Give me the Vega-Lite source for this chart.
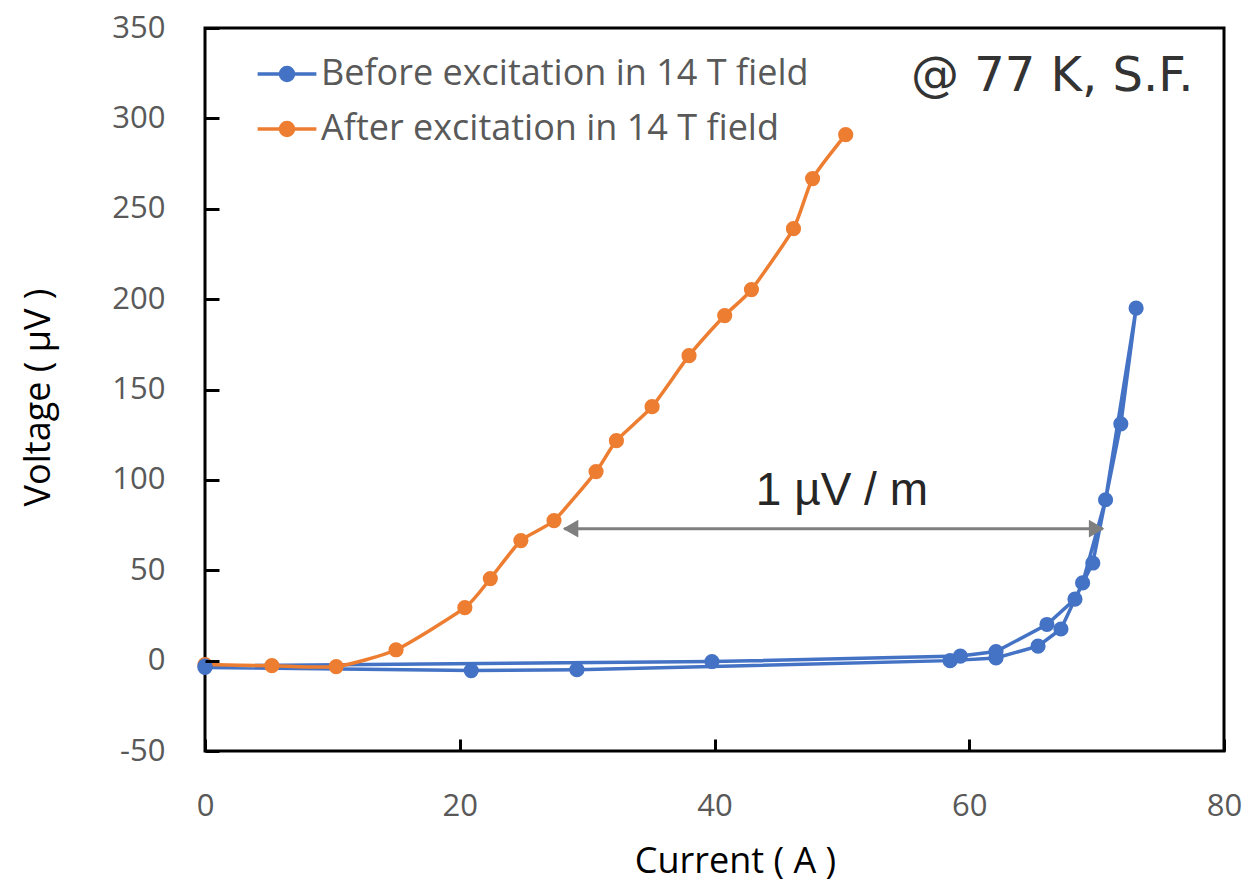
{
  "$schema": "https://vega.github.io/schema/vega-lite/v6.json",
  "width": 1019,
  "height": 723,
  "autosize": "none",
  "padding": {"left": 205, "top": 28, "right": 24, "bottom": 132},
  "background": "white",
  "view": {"stroke": "black", "strokeWidth": 3},
  "config": {
    "view": {"stroke": "black", "strokeWidth": 3},
    "font": "Open Sans"
  },
  "datasets": {
    "series": [
      {"series": "Before excitation in 14 T field", "i": 1, "current": 0, "voltage": -3.8},
      {"series": "Before excitation in 14 T field", "i": 2, "current": 20.9, "voltage": -5.5},
      {"series": "Before excitation in 14 T field", "i": 3, "current": 29.2, "voltage": -5},
      {"series": "Before excitation in 14 T field", "i": 4, "current": 58.5, "voltage": 0},
      {"series": "Before excitation in 14 T field", "i": 5, "current": 62.1, "voltage": 1.5},
      {"series": "Before excitation in 14 T field", "i": 6, "current": 65.4, "voltage": 8},
      {"series": "Before excitation in 14 T field", "i": 7, "current": 67.2, "voltage": 17.5},
      {"series": "Before excitation in 14 T field", "i": 8, "current": 68.9, "voltage": 43},
      {"series": "Before excitation in 14 T field", "i": 9, "current": 70.7, "voltage": 89},
      {"series": "Before excitation in 14 T field", "i": 10, "current": 73.1, "voltage": 195},
      {"series": "Before excitation in 14 T field", "i": 11, "current": 71.9, "voltage": 131},
      {"series": "Before excitation in 14 T field", "i": 12, "current": 69.7, "voltage": 54},
      {"series": "Before excitation in 14 T field", "i": 13, "current": 68.3, "voltage": 34},
      {"series": "Before excitation in 14 T field", "i": 14, "current": 66.1, "voltage": 20},
      {"series": "Before excitation in 14 T field", "i": 15, "current": 62.1, "voltage": 5},
      {"series": "Before excitation in 14 T field", "i": 16, "current": 59.3, "voltage": 2.5},
      {"series": "Before excitation in 14 T field", "i": 17, "current": 39.8, "voltage": -0.5},
      {"series": "Before excitation in 14 T field", "i": 18, "current": 0, "voltage": -3},
      {"series": "After excitation in 14 T field", "i": 1, "current": 0, "voltage": -2.2},
      {"series": "After excitation in 14 T field", "i": 2, "current": 5.25, "voltage": -2.8},
      {"series": "After excitation in 14 T field", "i": 3, "current": 10.3, "voltage": -3.3},
      {"series": "After excitation in 14 T field", "i": 4, "current": 15.0, "voltage": 6},
      {"series": "After excitation in 14 T field", "i": 5, "current": 20.4, "voltage": 29.3},
      {"series": "After excitation in 14 T field", "i": 6, "current": 22.4, "voltage": 45.4},
      {"series": "After excitation in 14 T field", "i": 7, "current": 24.8, "voltage": 66.4},
      {"series": "After excitation in 14 T field", "i": 8, "current": 27.4, "voltage": 77.5},
      {"series": "After excitation in 14 T field", "i": 9, "current": 30.7, "voltage": 104.6},
      {"series": "After excitation in 14 T field", "i": 10, "current": 32.3, "voltage": 121.7},
      {"series": "After excitation in 14 T field", "i": 11, "current": 35.1, "voltage": 140.5},
      {"series": "After excitation in 14 T field", "i": 12, "current": 38.0, "voltage": 168.7},
      {"series": "After excitation in 14 T field", "i": 13, "current": 40.8, "voltage": 190.9},
      {"series": "After excitation in 14 T field", "i": 14, "current": 42.9, "voltage": 205.3},
      {"series": "After excitation in 14 T field", "i": 15, "current": 46.2, "voltage": 239},
      {"series": "After excitation in 14 T field", "i": 16, "current": 47.7, "voltage": 266.7},
      {"series": "After excitation in 14 T field", "i": 17, "current": 50.3, "voltage": 291}
    ],
    "arrow": [{"x1": 28.2, "x2": 70.5, "y": 73}],
    "heads": [
      {"x": 28.7, "y": 73, "dir": "left"},
      {"x": 70.0, "y": 73, "dir": "right"}
    ],
    "notes": [
      {"label": "1 \u00b5V / m", "x": 50, "y": 94}
    ],
    "corner": [
      {"label": "@ 77 K, S.F.", "x": 77.6, "y": 323}
    ]
  },
  "layer": [
    {
      "data": {"name": "series"},
      "transform": [{"filter": "datum.series === 'Before excitation in 14 T field'"}],
      "mark": {"type": "line", "strokeWidth": 3.5, "interpolate": "linear"},
      "encoding": {
        "x": {"field": "current", "type": "quantitative"},
        "y": {"field": "voltage", "type": "quantitative"},
        "order": {"field": "i"},
        "color": {"field": "series", "type": "nominal"}
      }
    },
    {
      "data": {"name": "series"},
      "transform": [{"filter": "datum.series === 'After excitation in 14 T field'"}],
      "mark": {"type": "line", "strokeWidth": 3.5, "interpolate": "cardinal", "tension": 0.4},
      "encoding": {
        "x": {"field": "current", "type": "quantitative"},
        "y": {"field": "voltage", "type": "quantitative"},
        "order": {"field": "i"},
        "color": {"field": "series", "type": "nominal"}
      }
    },
    {
      "data": {"name": "series"},
      "mark": {"type": "point", "filled": true, "size": 230, "opacity": 1},
      "encoding": {
        "x": {
          "field": "current", "type": "quantitative",
          "scale": {"domain": [0, 80], "nice": false},
          "axis": {
            "title": "Current ( A )",
            "values": [0, 20, 40, 60, 80],
            "labelExpr": "'' + datum.value",
            "labelFlush": false,
            "zindex": 2,
            "grid": false,
            "domain": false,
            "offset": -12,
            "ticks": true, "tickColor": "#000000", "tickOpacity": 1, "tickWidth": 3, "tickSize": 12,
            "labelFontSize": 31, "labelColor": "#595959", "labelPadding": 40,
            "labelFont": "Open Sans",
            "titleFontSize": 36, "titleFontWeight": "normal", "titleColor": "black",
            "titleFont": "Open Sans", "titlePadding": 23, "titleX": 530
          }
        },
        "y": {
          "field": "voltage", "type": "quantitative",
          "scale": {"domain": [-50, 350], "nice": false},
          "axis": {
            "title": "Voltage ( \u00b5V )",
            "values": [-50, 0, 50, 100, 150, 200, 250, 300, 350],
            "labelExpr": "'' + datum.value",
            "labelFlush": false,
            "zindex": 2,
            "grid": false,
            "domain": false,
            "offset": -14,
            "ticks": true, "tickColor": "#000000", "tickOpacity": 1, "tickWidth": 3, "tickSize": 14,
            "labelFontSize": 31, "labelColor": "#595959", "labelPadding": 40,
            "labelFont": "Open Sans",
            "titleFontSize": 36, "titleFontWeight": "normal", "titleColor": "black",
            "titleFont": "Open Sans", "titlePadding": 54, "titleY": 369
          }
        },
        "order": {"field": "i"},
        "color": {
          "field": "series", "type": "nominal",
          "scale": {
            "domain": ["Before excitation in 14 T field", "After excitation in 14 T field"],
            "range": ["#4472C4", "#ED7D31"]
          },
          "legend": {
            "title": null,
            "orient": "none",
            "legendX": 54,
            "legendY": 18,
            "padding": 0,
            "symbolType": "M-1.13,0H1.13M-0.25,0A0.25,0.25,0,1,0,0.25,0A0.25,0.25,0,1,0,-0.25,0Z",
            "symbolSize": 2704,
            "symbolStrokeWidth": 3.5,
            "symbolOpacity": 1,
            "rowPadding": 9,
            "labelOffset": 6,
            "labelFontSize": 36,
            "labelColor": "#595959",
            "labelFont": "Open Sans",
            "labelLimit": 900
          }
        }
      }
    },
    {
      "data": {"name": "arrow"},
      "mark": {"type": "rule", "color": "#7F7F7F", "strokeWidth": 3},
      "encoding": {
        "x": {"field": "x1", "type": "quantitative"},
        "x2": {"field": "x2"},
        "y": {"field": "y", "type": "quantitative"}
      }
    },
    {
      "data": {"name": "heads"},
      "mark": {"type": "point", "filled": true, "size": 320, "color": "#7F7F7F", "opacity": 1},
      "encoding": {
        "x": {"field": "x", "type": "quantitative"},
        "y": {"field": "y", "type": "quantitative"},
        "shape": {
          "field": "dir", "type": "nominal",
          "scale": {"domain": ["left", "right"], "range": ["triangle-left", "triangle-right"]},
          "legend": null
        }
      }
    },
    {
      "data": {"name": "notes"},
      "mark": {"type": "text", "font": "Liberation Sans", "fontSize": 46, "color": "#262626", "align": "center", "baseline": "middle"},
      "encoding": {
        "x": {"field": "x", "type": "quantitative"},
        "y": {"field": "y", "type": "quantitative"},
        "text": {"field": "label"}
      }
    },
    {
      "data": {"name": "corner"},
      "mark": {"type": "text", "font": "DejaVu Sans", "fontSize": 48, "color": "#333333", "align": "right", "baseline": "middle"},
      "encoding": {
        "x": {"field": "x", "type": "quantitative"},
        "y": {"field": "y", "type": "quantitative"},
        "text": {"field": "label"}
      }
    }
  ]
}
